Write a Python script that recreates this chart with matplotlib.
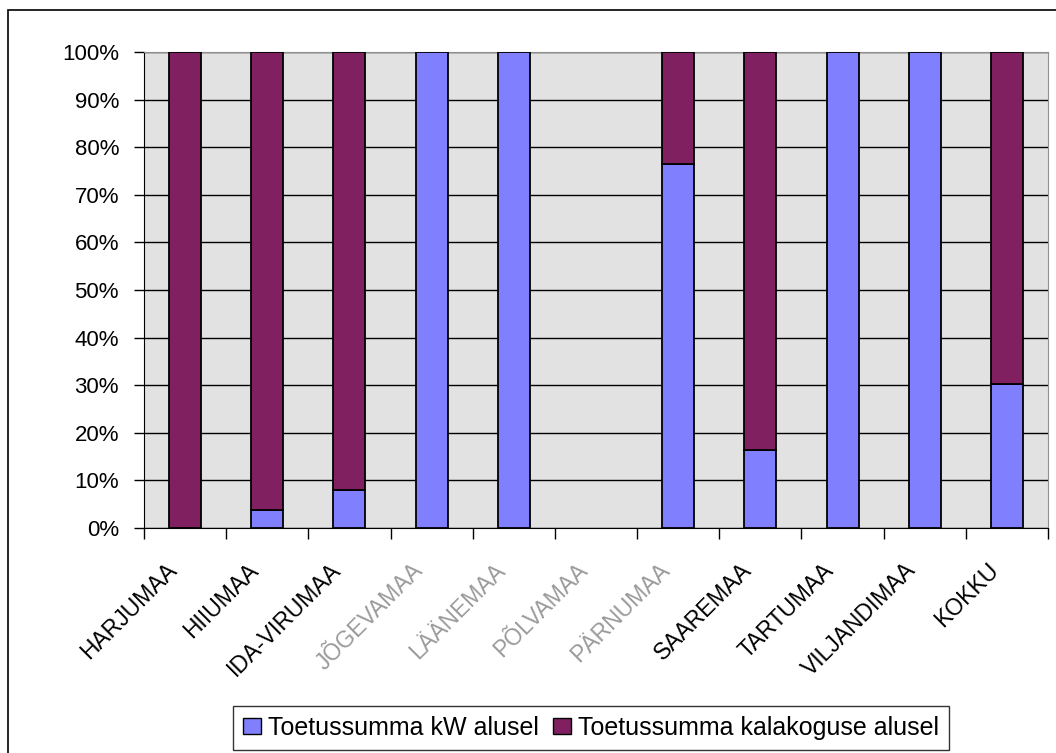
import numpy as np
import matplotlib.pyplot as plt
from matplotlib.patches import Rectangle, Patch
from matplotlib.transforms import ScaledTranslation

plt.rcParams['font.family'] = ['Liberation Sans', 'DejaVu Sans']

maakonnad = ["HARJUMAA", "HIIUMAA", "IDA-VIRUMAA", "JÕGEVAMAA", "LÄÄNEMAA",
             "PÕLVAMAA", "PÄRNUMAA", "SAAREMAA", "TARTUMAA", "VILJANDIMAA", "KOKKU"]
# osakaal protsentides
kw_alusel = [0, 3.8, 7.9, 100, 100, 0, 76.5, 16.4, 100, 100, 30.3]
kala_alusel = [100, 96.2, 92.1, 0, 0, 0, 23.5, 83.6, 0, 0, 69.7]
# need sildid on originaalis katkise kirjaga
katkised = ["JÕGEVAMAA", "LÄÄNEMAA", "PÕLVAMAA", "PÄRNUMAA"]

sinine = "#8080ff"
lilla = "#802060"

fig = plt.figure(figsize=(10.56, 7.53), dpi=100)
ax = fig.add_axes([144/1056, 1 - 528/753, 904/1056, 476/753])

# välimine raam
fig.patches.append(Rectangle((8/1056, -0.05), 1.05, 0.05 + (1 - 10/753),
                             transform=fig.transFigure, fill=False,
                             edgecolor="black", linewidth=1.2))

x = np.arange(len(maakonnad))
ax.set_facecolor("#e2e2e2")
ax.bar(x, kw_alusel, width=0.39, color=sinine,
       edgecolor=["black" if v > 0 else "none" for v in kw_alusel], linewidth=1.3,
       zorder=3)
ax.bar(x, kala_alusel, width=0.39, bottom=kw_alusel, color=lilla,
       edgecolor=["black" if v > 0 else "none" for v in kala_alusel], linewidth=1.3,
       zorder=3)

ax.set_xlim(-0.5, len(maakonnad) - 0.5)
ax.set_ylim(0, 100)
ax.set_yticks(np.arange(0, 101, 10))
ax.set_yticklabels([f"{v}%" for v in range(0, 101, 10)], fontsize=16)
ax.yaxis.grid(True, color="black", linewidth=1.0, zorder=1)
ax.tick_params(axis="y", length=7, width=1, direction="out", pad=11)

ax.set_xticks(x)
ax.set_xticks(np.arange(-0.5, len(maakonnad)), minor=True)
ax.tick_params(axis="x", which="major", length=0, pad=28)
ax.tick_params(axis="x", which="minor", length=8, width=1, direction="out")
ax.set_xticklabels(maakonnad, rotation=45, ha="right", va="center",
                   rotation_mode="anchor", fontsize=16.5)
nihe = ScaledTranslation(-12/100, 0, fig.dpi_scale_trans)
for t in ax.get_xticklabels():
    t.set_transform(t.get_transform() + nihe)
    if t.get_text() in katkised:
        t.set_color("#9a9a9a")

for s in ["top", "right"]:
    ax.spines[s].set_color("#909090")
ax.spines["left"].set_color("black")
ax.spines["bottom"].set_color("black")

handles = [Patch(facecolor=sinine, edgecolor="black", label="Toetussumma kW alusel"),
           Patch(facecolor=lilla, edgecolor="black", label="Toetussumma kalakoguse alusel")]
leg = fig.legend(handles=handles, loc="upper left", bbox_to_anchor=(233/1056, 1 - 706/753),
                 ncol=2, fontsize=18, frameon=True, fancybox=False, edgecolor="black",
                 handlelength=0.72, handleheight=0.6, handletextpad=0.28,
                 columnspacing=0.55, borderpad=0.4, borderaxespad=0)
leg.get_frame().set_linewidth(1.0)

fig.savefig("out.png", dpi=100, facecolor="white")
